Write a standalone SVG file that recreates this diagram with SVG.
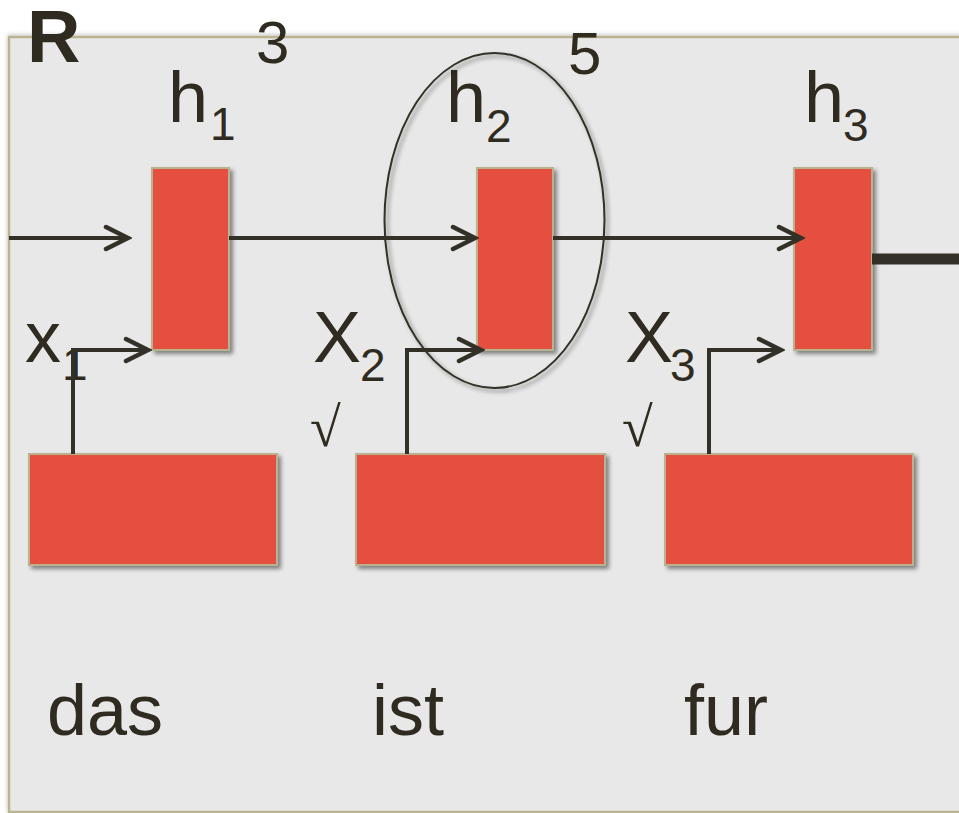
<svg xmlns="http://www.w3.org/2000/svg" width="959" height="813" viewBox="0 0 959 813">
<defs>
<filter id="sh" x="-20%" y="-20%" width="150%" height="150%">
<feDropShadow dx="3" dy="3" stdDeviation="2" flood-color="#000" flood-opacity="0.45"/>
</filter>
<filter id="psh" x="-5%" y="-5%" width="110%" height="110%">
<feDropShadow dx="0" dy="-1" stdDeviation="2" flood-color="#000" flood-opacity="0.25"/>
</filter>
<marker id="ah" markerUnits="userSpaceOnUse" viewBox="-26 -14 30 28" markerWidth="30" markerHeight="28" refX="0" refY="0" orient="auto">
<path d="M-22,-11 L0,0 L-22,11" fill="none" stroke="#333027" stroke-width="4.5" stroke-linecap="round" stroke-linejoin="miter"/>
</marker>
<style>
.box{fill:#e44f3f;stroke:#b8b28e;stroke-width:2;filter:url(#sh)}
.t{font-family:"Liberation Sans",Arial,sans-serif;fill:#2f2b20}
.big{font-size:72px}
.sub{font-size:46px}
.num{font-size:60px}
.chk{font-family:"Liberation Serif","DejaVu Serif",serif;font-size:56px;fill:#2f2b20}
.ln{fill:none;stroke:#333027;stroke-width:4}
</style>
</defs>
<rect x="0" y="0" width="959" height="813" fill="#ffffff"/>
<g id="panel">
<rect x="9" y="37" width="960" height="775" fill="#e8e8e8" stroke="#b9b38f" stroke-width="2.5" filter="url(#psh)"/>
</g>
<g id="title"><text class="t" x="27" y="62" font-size="74" font-weight="bold">R</text></g>
<g id="n3"><text class="t num" x="256" y="63">3</text></g>
<g id="n5"><text class="t num" x="568" y="74">5</text></g>
<g id="h1">
<rect class="box" x="152" y="168" width="77" height="182"/>
<text class="t big" x="168" y="122">h</text><text class="t sub" x="210" y="140">1</text>
</g>
<g id="h2">
<rect class="box" x="477" y="168" width="76" height="182"/>
<text class="t big" x="446" y="122">h</text><text class="t sub" x="486" y="142">2</text>
</g>
<g id="h3">
<rect class="box" x="794" y="168" width="78" height="182"/>
<text class="t big" x="804" y="122">h</text><text class="t sub" x="843" y="141">3</text>
</g>
<g id="focus">
<ellipse cx="494.5" cy="220.5" rx="110" ry="167.5" fill="none" stroke="#333027" stroke-width="2" filter="url(#sh)"/>
</g>
<g id="x1">
<rect class="box" x="29" y="454" width="248" height="111"/>
<text class="t big" x="25" y="362">x</text><text class="t sub" x="62" y="380">1</text>
</g>
<g id="x2">
<rect class="box" x="356" y="454" width="249" height="111"/>
<text class="t big" x="313" y="362">X</text><text class="t sub" x="360" y="381">2</text>
<text class="chk" x="310" y="446">√</text>
</g>
<g id="x3">
<rect class="box" x="665" y="454" width="248" height="111"/>
<text class="t big" x="625" y="362">X</text><text class="t sub" x="670" y="381">3</text>
<text class="chk" x="622" y="446">√</text>
</g>
<g id="words">
<text class="t big" x="47" y="735">das</text>
<text class="t big" x="372" y="735">ist</text>
<text class="t big" x="684" y="735">fur</text>
</g>
<g id="connectors">
<line class="ln" x1="9" y1="238" x2="128" y2="238" marker-end="url(#ah)"/>
<line class="ln" x1="229" y1="238" x2="475" y2="238" marker-end="url(#ah)"/>
<line class="ln" x1="553" y1="238" x2="801" y2="238" marker-end="url(#ah)"/>
<line x1="872" y1="259" x2="959" y2="259" stroke="#333027" stroke-width="11"/>
<polyline class="ln" points="73,454 73,350 148,350" marker-end="url(#ah)"/>
<polyline class="ln" points="407,454 407,350 481,350" marker-end="url(#ah)"/>
<polyline class="ln" points="709,454 709,350 781,350" marker-end="url(#ah)"/>
</g>
</svg>
